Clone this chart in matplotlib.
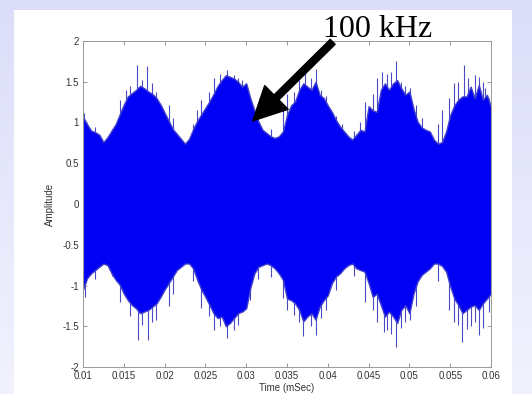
import numpy as np
import matplotlib
matplotlib.use("Agg")
import matplotlib.pyplot as plt
from matplotlib.patches import Rectangle
from matplotlib.colors import LinearSegmentedColormap

# envelope of the signal, read every 0.0005 ms from 0.010 to 0.060
t_start = 0.010
t_step = 0.0005
upper = [1.07, 0.98, 0.90, 0.88, 0.85, 0.76, 0.82, 0.90, 0.98, 1.10,
         1.22, 1.32, 1.36, 1.40, 1.45, 1.42, 1.38, 1.35, 1.30, 1.22,
         1.12, 1.02, 0.92, 0.86, 0.80, 0.74, 0.80, 0.92, 1.02, 1.10,
         1.18, 1.26, 1.35, 1.45, 1.52, 1.58, 1.56, 1.54, 1.50, 1.44,
         1.48, 1.30, 1.15, 1.01, 0.91, 0.87, 0.83, 0.81, 0.83, 0.89,
         1.09, 1.21, 1.26, 1.40, 1.48, 1.44, 1.40, 1.50, 1.34, 1.30,
         1.21, 1.13, 1.03, 0.95, 0.89, 0.83, 0.79, 0.85, 0.91, 0.89,
         1.20, 1.15, 1.13, 1.40, 1.48, 1.40, 1.48, 1.52, 1.42, 1.34,
         1.38, 1.17, 1.01, 0.94, 0.91, 0.89, 0.79, 0.74, 0.76, 0.89,
         1.09, 1.21, 1.28, 1.32, 1.32, 1.44, 1.30, 1.46, 1.28, 1.34,
         1.19]
lower = [-1.05, -0.91, -0.85, -0.81, -0.77, -0.73, -0.75, -0.85, -0.93, -0.99,
         -1.10, -1.18, -1.24, -1.28, -1.34, -1.32, -1.30, -1.26, -1.22, -1.14,
         -1.05, -0.97, -0.89, -0.81, -0.77, -0.73, -0.73, -0.79, -0.93, -1.05,
         -1.14, -1.24, -1.34, -1.40, -1.38, -1.50, -1.46, -1.40, -1.34, -1.32,
         -1.28, -1.03, -0.85, -0.77, -0.75, -0.73, -0.75, -0.79, -0.85, -0.93,
         -1.16, -1.18, -1.22, -1.30, -1.44, -1.38, -1.34, -1.42, -1.26, -1.18,
         -1.12, -0.97, -0.89, -0.85, -0.79, -0.75, -0.73, -0.79, -0.81, -0.83,
         -0.97, -1.14, -1.10, -1.24, -1.38, -1.32, -1.38, -1.46, -1.30, -1.24,
         -1.34, -1.10, -0.95, -0.87, -0.83, -0.79, -0.73, -0.73, -0.76, -0.83,
         -1.01, -1.16, -1.24, -1.34, -1.30, -1.26, -1.24, -1.30, -1.22, -1.16,
         -1.10]

# peaks sticking out of the envelope (upper side)
spike_up_t = [0.0101, 0.0115, 0.0135, 0.0145, 0.0153, 0.0158, 0.0166, 0.0172,
              0.0179, 0.0185, 0.0190, 0.0205, 0.0210, 0.0235, 0.0240, 0.0245,
              0.0255, 0.0260, 0.0268, 0.0277, 0.0285, 0.0290, 0.0295, 0.0300,
              0.0305, 0.0315, 0.0330, 0.0345, 0.0350, 0.0358, 0.0365, 0.0372,
              0.0380, 0.0386, 0.0392, 0.0398, 0.0410, 0.0418, 0.0432, 0.0440,
              0.0445, 0.0455, 0.0460, 0.0466, 0.0472, 0.0478, 0.0483, 0.0490,
              0.0495, 0.0501, 0.0508, 0.0515, 0.0535, 0.0540, 0.0548, 0.0555,
              0.0560, 0.0567, 0.0572, 0.0580, 0.0585, 0.0590, 0.0593, 0.0598]
spike_up_v = [1.12, 0.95, 0.92, 1.28, 1.40, 1.45, 1.71, 1.52,
              1.69, 1.48, 1.38, 1.22, 1.05, 0.98, 1.15, 1.28,
              1.38, 1.55, 1.60, 1.64, 1.58, 1.55, 1.52, 1.48,
              1.22, 0.95, 0.92, 1.18, 1.35, 1.38, 1.52, 1.62,
              1.55, 1.66, 1.40, 1.32, 1.08, 0.98, 0.90, 1.00,
              1.25, 1.35, 1.55, 1.62, 1.60, 1.62, 1.75, 1.50,
              1.45, 1.42, 1.22, 1.05, 0.98, 1.15, 1.30, 1.48,
              1.50, 1.71, 1.55, 1.58, 1.56, 1.50, 1.42, 1.30]
# peaks sticking out of the envelope (lower side)
spike_dn_t = [0.0102, 0.0115, 0.0135, 0.0145, 0.0158, 0.0168, 0.0172, 0.0180,
              0.0185, 0.0190, 0.0205, 0.0210, 0.0235, 0.0245, 0.0255, 0.0260,
              0.0268, 0.0277, 0.0285, 0.0290, 0.0305, 0.0315, 0.0330, 0.0345,
              0.0350, 0.0358, 0.0365, 0.0369, 0.0380, 0.0386, 0.0392, 0.0398,
              0.0410, 0.0432, 0.0445, 0.0455, 0.0460, 0.0469, 0.0472, 0.0478,
              0.0484, 0.0490, 0.0495, 0.0501, 0.0508, 0.0535, 0.0548, 0.0555,
              0.0560, 0.0564, 0.0570, 0.0575, 0.0580, 0.0585, 0.0590, 0.0598]
spike_dn_v = [-1.14, -0.92, -0.88, -1.20, -1.38, -1.67, -1.48, -1.67,
              -1.45, -1.42, -1.25, -1.10, -0.95, -1.28, -1.38, -1.55,
              -1.50, -1.65, -1.55, -1.48, -1.18, -0.92, -0.90, -1.15,
              -1.30, -1.36, -1.45, -1.62, -1.50, -1.61, -1.40, -1.30,
              -1.05, -0.88, -1.20, -1.30, -1.45, -1.57, -1.55, -1.60,
              -1.75, -1.52, -1.45, -1.42, -1.25, -0.95, -1.30, -1.45,
              -1.48, -1.69, -1.53, -1.50, -1.45, -1.61, -1.52, -1.32]

xticks = [0.01, 0.015, 0.02, 0.025, 0.03, 0.035, 0.04, 0.045, 0.05, 0.055, 0.06]
xtick_labels = ["0.01", "0.015", "0.02", "0.025", "0.03", "0.035", "0.04",
                "0.045", "0.05", "0.055", "0.06"]
yticks = [-2, -1.5, -1, -0.5, 0, 0.5, 1, 1.5, 2]
ytick_labels = ["-2", "-1.5", "-1", "-0.5", "0", "0.5", "1", "1.5", "2"]

t = t_start + t_step * np.arange(len(upper))

fig = plt.figure(figsize=(5.32, 3.94), dpi=100)

# slide background: lavender gradient with a white panel
bg = fig.add_axes([0, 0, 1, 1], zorder=-2)
cmap = LinearSegmentedColormap.from_list("bg", ["#f1f2fd", "#dcdef9"])
bg.imshow(np.linspace(0, 1, 100).reshape(-1, 1), aspect="auto", cmap=cmap,
          origin="lower", extent=[0, 1, 0, 1])
bg.add_patch(Rectangle((14 / 532, 0), (512 - 14) / 532, (394 - 10) / 394,
                       facecolor="white", edgecolor="none"))
bg.set_xlim(0, 1)
bg.set_ylim(0, 1)
bg.axis("off")

ax = fig.add_axes([83 / 532, 27 / 394, 408 / 532, 326 / 394])
ax.vlines(spike_up_t, 0, spike_up_v, color="#4a4ac4", linewidth=0.8, zorder=1)
ax.vlines(spike_dn_t, spike_dn_v, 0, color="#4a4ac4", linewidth=0.8, zorder=1)
ax.fill_between(t, lower, upper, facecolor="#0000f4", edgecolor="#4040cc",
                linewidth=1.0, zorder=2)

ax.set_xlim(0.01, 0.06)
ax.set_ylim(-2, 2)
ax.set_xticks(xticks)
ax.set_xticklabels(xtick_labels)
ax.set_yticks(yticks)
ax.set_yticklabels(ytick_labels)
ax.tick_params(direction="in", length=3, width=0.6, colors="#888888",
               labelcolor="#333333", labelsize=7, pad=3,
               top=True, right=True)
for lab in ax.get_xticklabels() + ax.get_yticklabels():
    lab.set_fontfamily("Liberation Sans")
for s in ax.spines.values():
    s.set_color("#999999")
    s.set_linewidth(0.7)
    s.set_zorder(3)

ax.set_xlabel("Time (mSec)", fontsize=7, family="Liberation Sans",
              color="#333333", labelpad=1)
ax.set_ylabel("Amplitude", fontsize=7, family="Liberation Sans",
              color="#333333", labelpad=5)

ax.annotate("", xy=(0.0308, 1.02), xytext=(0.0406, 1.99),
            arrowprops=dict(facecolor="black", edgecolor="black", width=5,
                            headwidth=24, headlength=24, shrink=0),
            annotation_clip=False, zorder=5)
fig.text(378 / 532, 1 - 37 / 394, "100 kHz", fontsize=23,
         family="Liberation Serif", ha="center", va="baseline")

fig.savefig("out.png", dpi=100)
